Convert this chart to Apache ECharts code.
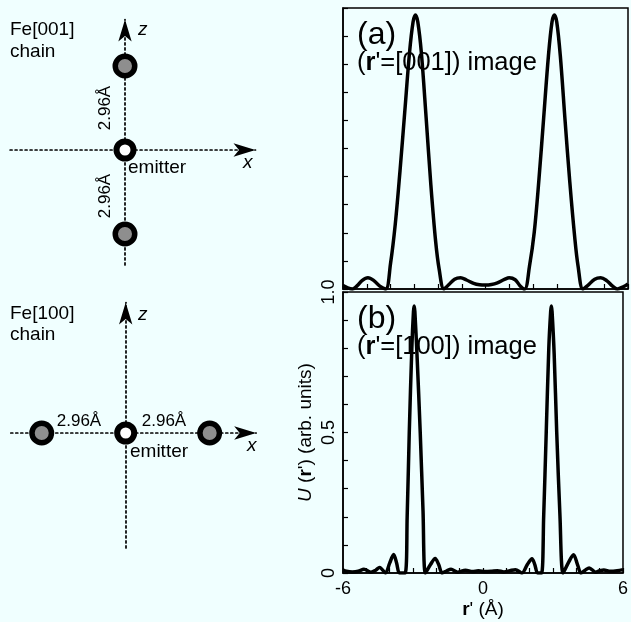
<!DOCTYPE html>
<html>
<head>
<meta charset="utf-8">
<script src="https://cdn.jsdelivr.net/npm/echarts@6/dist/echarts.min.js"></script>
<style>
html,body{margin:0;padding:0;background:#f0ffff;}
#c{width:631px;height:622px;}
</style>
</head>
<body>
<div id="c"></div>
<script>
// ---- Data ----
// Atom positions in the chain diagrams (Å): [x, z]
const chain001Atoms = [[0, 2.96], [0, -2.96]];
const chain100Atoms = [[-2.96, 0], [2.96, 0]];
const emitterPos = [[0, 0]];

// (a) r' = [001] image
const rA = [-6, -5.8, -5.6, -5.4, -5.2, -4.95, -4.7, -4.45, -4.2, -4.0, -3.8, -3.6, -3.4, -3.2, -3.05, -2.95, -2.85, -2.7, -2.5, -2.3, -2.1, -1.95, -1.75, -1.55, -1.3, -1.05, -0.8, -0.5, -0.25, 0, 0.25, 0.5, 0.8, 1.0, 1.25, 1.45, 1.65, 1.85, 2.05, 2.25, 2.45, 2.65, 2.8, 2.9, 3.0, 3.15, 3.35, 3.55, 3.75, 3.9, 4.1, 4.3, 4.6, 4.85, 5.1, 5.35, 5.55, 5.8, 6.0];
const uA = [0.012, 0.004, 0.0, 0.012, 0.03, 0.04, 0.03, 0.01, 0.0, 0.09, 0.23, 0.42, 0.63, 0.84, 0.95, 0.975, 0.95, 0.84, 0.61, 0.37, 0.17, 0.07, 0.0, 0.015, 0.035, 0.04, 0.032, 0.02, 0.015, 0.014, 0.016, 0.022, 0.034, 0.04, 0.033, 0.012, 0.0, 0.08, 0.2, 0.39, 0.61, 0.83, 0.95, 0.975, 0.95, 0.83, 0.6, 0.38, 0.19, 0.08, 0.0, 0.012, 0.035, 0.04, 0.03, 0.01, 0.0, 0.008, 0.018];

// (b) r' = [100] image
const rB = [-6, -5.85, -5.6, -5.35, -5.1, -4.8, -4.6, -4.43, -4.18, -4.0, -3.83, -3.7, -3.58, -3.34, -3.25, -3.16, -3.05, -2.98, -2.95, -2.92, -2.83, -2.69, -2.57, -2.47, -2.25, -2.05, -1.9, -1.75, -1.55, -1.37, -1.09, -0.75, -0.45, -0.2, 0.1, 0.35, 0.62, 0.9, 1.15, 1.39, 1.67, 1.9, 2.1, 2.22, 2.34, 2.51, 2.6, 2.71, 2.82, 2.9, 2.93, 2.96, 3.05, 3.16, 3.3, 3.43, 3.65, 3.88, 4.05, 4.2, 4.38, 4.55, 4.83, 5.0, 5.18, 5.45, 5.75, 6.0];
const uB = [0.01, 0.006, 0.004, 0.006, 0.013, 0.003, 0.01, 0.02, 0.0, 0.035, 0.066, 0.035, 0.0, 0.0, 0.2, 0.5, 0.8, 0.93, 0.95, 0.93, 0.78, 0.5, 0.22, 0.0, 0.03, 0.052, 0.03, 0.0, 0.008, 0.013, 0.003, 0.01, 0.005, 0.008, 0.005, 0.006, 0.008, 0.004, 0.008, 0.012, 0.0, 0.03, 0.051, 0.03, 0.0, 0.0, 0.2, 0.5, 0.8, 0.93, 0.95, 0.93, 0.78, 0.5, 0.2, 0.0, 0.035, 0.065, 0.03, 0.0, 0.01, 0.018, 0.003, 0.008, 0.011, 0.006, 0.008, 0.012];

const xTickLabels = {'-6': '-6', '0': '0', '6': '6'};
const yTickLabels = {'0': '0', '0.5': '0.5', '1': '1.0'};

// ---- Chart ----
const FF = '"Liberation Sans", Arial, Helvetica, sans-serif';
const zip = (xs, ys) => xs.map((x, i) => [x, ys[i]]);

const chart = echarts.init(document.getElementById('c'), null, {renderer: 'canvas'});

function diagramAxis(gi) {
  return {
    gridIndex: gi, type: 'value', min: -4.05, max: 4.6,
    axisLine: {show: true, onZero: true, symbol: ['none', 'arrow'], symbolSize: [10, 22],
      lineStyle: {color: '#000', width: 1.7, type: [2, 3]}},
    axisTick: {show: false}, axisLabel: {show: false}, splitLine: {show: false}
  };
}
function plotX(gi, labels) {
  return {
    gridIndex: gi, type: 'value', min: -6, max: 6, interval: 1,
    axisLine: {show: true, onZero: false, lineStyle: {color: '#000', width: 1.5}},
    axisTick: {show: true, inside: true, length: 5, lineStyle: {color: '#000', width: 1.2}},
    axisLabel: {show: labels, margin: 7, color: '#000', fontSize: 18, fontFamily: FF,
      formatter: v => (xTickLabels[String(v)] !== undefined ? xTickLabels[String(v)] : '')},
    splitLine: {show: false},
    name: labels ? "{b|r}' (Å)" : '', nameLocation: 'middle', nameGap: 27,
    nameTextStyle: {color: '#000', fontSize: 19, fontFamily: FF,
      rich: {b: {fontWeight: 'bold', fontSize: 19, fontFamily: FF, color: '#000'}}}
  };
}
function plotY(gi, labels) {
  return {
    gridIndex: gi, type: 'value', min: 0, max: 1, interval: 0.1,
    axisLine: {show: true, onZero: false, lineStyle: {color: '#000', width: 1.5}},
    axisTick: {show: true, inside: true, length: 5, lineStyle: {color: '#000', width: 1.2}},
    axisLabel: {show: labels, rotate: 90, margin: 5, color: '#000', fontSize: 18, fontFamily: FF,
      alignMinLabel: 'center', alignMaxLabel: 'center',
      formatter: v => { const k = String(Math.round(v * 10) / 10); return yTickLabels[k] !== undefined ? yTickLabels[k] : ''; }},
    splitLine: {show: false},
    name: labels ? "{i|U} ({b|r}') (arb. units)" : '', nameLocation: 'middle', nameGap: 28,
    nameTextStyle: {color: '#000', fontSize: 19, fontFamily: FF,
      rich: {i: {fontStyle: 'italic', fontSize: 19, fontFamily: FF, color: '#000'},
             b: {fontWeight: 'bold', fontSize: 19, fontFamily: FF, color: '#000'}}}
  };
}

const txt = (x, y, text, size, extra) => Object.assign({
  type: 'text', x: x, y: y, z: 0,
  style: Object.assign({text: text, fill: '#000', fontSize: size, fontFamily: FF,
    align: 'left', verticalAlign: 'middle'}, (extra && extra.style) || {})
}, extra && extra.rotation !== undefined ? {rotation: extra.rotation} : {});

const option = {
  backgroundColor: '#f0ffff',
  animation: false,
  grid: [
    {left: 10.1, top: 19.5, width: 245.4, height: 245.4},
    {left: 10.8, top: 302.5, width: 245.4, height: 245.4},
    {left: 343, top: 8, width: 285, height: 281, show: true, borderColor: '#000', borderWidth: 1.5, backgroundColor: 'transparent'},
    {left: 343, top: 292, width: 285, height: 281, show: true, borderColor: '#000', borderWidth: 1.5, backgroundColor: 'transparent'}
  ],
  xAxis: [diagramAxis(0), diagramAxis(1), plotX(2, false), plotX(3, true)],
  yAxis: [diagramAxis(0), diagramAxis(1), plotY(2, false), plotY(3, true)],
  series: [
    {type: 'scatter', xAxisIndex: 0, yAxisIndex: 0, data: chain001Atoms, symbol: 'circle', symbolSize: 19.5,
      itemStyle: {color: '#8e8e8e', borderColor: '#000', borderWidth: 5.5, opacity: 1}, z: 5, silent: true},
    {type: 'scatter', xAxisIndex: 0, yAxisIndex: 0, data: emitterPos, symbol: 'circle', symbolSize: 17,
      itemStyle: {color: '#ffffff', borderColor: '#000', borderWidth: 6, opacity: 1}, z: 5, silent: true},
    {type: 'scatter', xAxisIndex: 1, yAxisIndex: 1, data: chain100Atoms, symbol: 'circle', symbolSize: 19.5,
      itemStyle: {color: '#8e8e8e', borderColor: '#000', borderWidth: 5.5, opacity: 1}, z: 5, silent: true},
    {type: 'scatter', xAxisIndex: 1, yAxisIndex: 1, data: emitterPos, symbol: 'circle', symbolSize: 17,
      itemStyle: {color: '#ffffff', borderColor: '#000', borderWidth: 6, opacity: 1}, z: 5, silent: true},
    {type: 'line', xAxisIndex: 2, yAxisIndex: 2, data: zip(rA, uA), smooth: 0.35, showSymbol: false,
      lineStyle: {color: '#000', width: 3.5}, z: 5, silent: true, clip: true},
    {type: 'line', xAxisIndex: 3, yAxisIndex: 3, data: zip(rB, uB), smooth: 0.3, showSymbol: false,
      lineStyle: {color: '#000', width: 3.5}, z: 5, silent: true, clip: true}
  ],
  graphic: [
    txt(10, 30, 'Fe[001]', 19), txt(10, 52, 'chain', 19),
    txt(138, 30, 'z', 19, {style: {fontStyle: 'italic'}}),
    txt(243, 163, 'x', 19, {style: {fontStyle: 'italic'}}),
    txt(128, 168, 'emitter', 19),
    txt(105, 108, '2.96Å', 17, {rotation: Math.PI / 2, style: {align: 'center'}}),
    txt(105, 196, '2.96Å', 17, {rotation: Math.PI / 2, style: {align: 'center'}}),

    txt(10, 314, 'Fe[100]', 19), txt(10, 335, 'chain', 19),
    txt(138, 315, 'z', 19, {style: {fontStyle: 'italic'}}),
    txt(247, 446, 'x', 19, {style: {fontStyle: 'italic'}}),
    txt(130, 452, 'emitter', 19),
    txt(79, 421, '2.96Å', 17, {style: {align: 'center'}}),
    txt(164, 421, '2.96Å', 17, {style: {align: 'center'}}),

    txt(357, 35, '(a)', 32),
    txt(357, 63, "({b|r}'=[001]) image", 25.5, {style: {rich: {b: {fontWeight: 'bold', fontSize: 25.5, fontFamily: FF, fill: '#000'}}}}),
    txt(357, 319, '(b)', 32),
    txt(357, 347, "({b|r}'=[100]) image", 25.5, {style: {rich: {b: {fontWeight: 'bold', fontSize: 25.5, fontFamily: FF, fill: '#000'}}}})
  ]
};
chart.setOption(option);
</script>
</body>
</html>
